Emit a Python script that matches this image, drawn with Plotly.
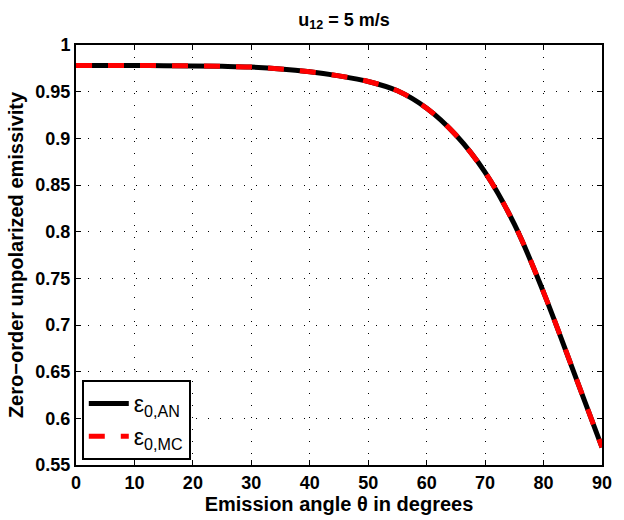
import plotly.graph_objects as go

theta = [0, 5, 10, 15, 20, 25, 30, 35, 40, 45, 50, 55, 60, 65, 70, 75, 80, 85, 90]
eps_an = [0.978, 0.978, 0.978, 0.9779, 0.9776, 0.9771, 0.9763, 0.9744, 0.9713, 0.9669,
          0.9609, 0.9509, 0.9322, 0.9035, 0.8635, 0.8080, 0.7350, 0.6525, 0.5690]
eps_mc = list(eps_an)

x_ticks = [0, 10, 20, 30, 40, 50, 60, 70, 80, 90]
y_ticks = [0.55, 0.6, 0.65, 0.7, 0.75, 0.8, 0.85, 0.9, 0.95, 1.0]
y_labels = ["0.55", "0.6", "0.65", "0.7", "0.75", "0.8", "0.85", "0.9", "0.95", "1"]

FONT = "Liberation Sans, Arial, sans-serif"

fig = go.Figure()
fig.add_trace(go.Scatter(x=theta, y=eps_an, mode="lines",
                         line=dict(color="black", width=5, shape="spline", smoothing=1.0),
                         name="ε<sub>0,AN</sub>"))
fig.add_trace(go.Scatter(x=theta, y=eps_mc, mode="lines",
                         line=dict(color="red", width=5, dash="16px,16px", shape="spline", smoothing=1.0),
                         name="ε<sub>0,MC</sub>"))

axis_common = dict(showline=True, linecolor="black", linewidth=2, mirror="ticks",
                   ticks="inside", ticklen=5, tickcolor="black", tickwidth=1,
                   showgrid=True, gridcolor="black", gridwidth=1, griddash="1px,11px",
                   zeroline=False, tickfont=dict(family=FONT, size=18, color="black", weight="bold"))

fig.update_xaxes(range=[0, 90], tickvals=x_ticks,
                 title=dict(text="<b>Emission angle θ in degrees</b>",
                            font=dict(family=FONT, size=20, color="black"), standoff=1),
                 **axis_common)
fig.update_yaxes(range=[0.55, 1.0], tickvals=y_ticks, ticktext=y_labels,
                 title=dict(text="<b>Zero−order unpolarized emissivity</b>",
                            font=dict(family=FONT, size=20, color="black"), standoff=6),
                 **axis_common)

fig.update_layout(
    width=624, height=520,
    margin=dict(l=76, r=12, t=45, b=53),
    paper_bgcolor="white", plot_bgcolor="white",
    title=dict(text="<b>u<sub>12</sub> = 5 m/s</b>", x=(76 + 612) / 2 / 624, xanchor="center",
               y=0.975, yanchor="top", font=dict(family=FONT, size=18, color="black")),
    legend=dict(x=0.011, y=0.012, xanchor="left", yanchor="bottom",
                bgcolor="white", bordercolor="black", borderwidth=2,
                font=dict(family=FONT, size=23, color="black"), itemwidth=40,
                tracegroupgap=0),
    showlegend=True,
)

fig.write_html("out.html")
